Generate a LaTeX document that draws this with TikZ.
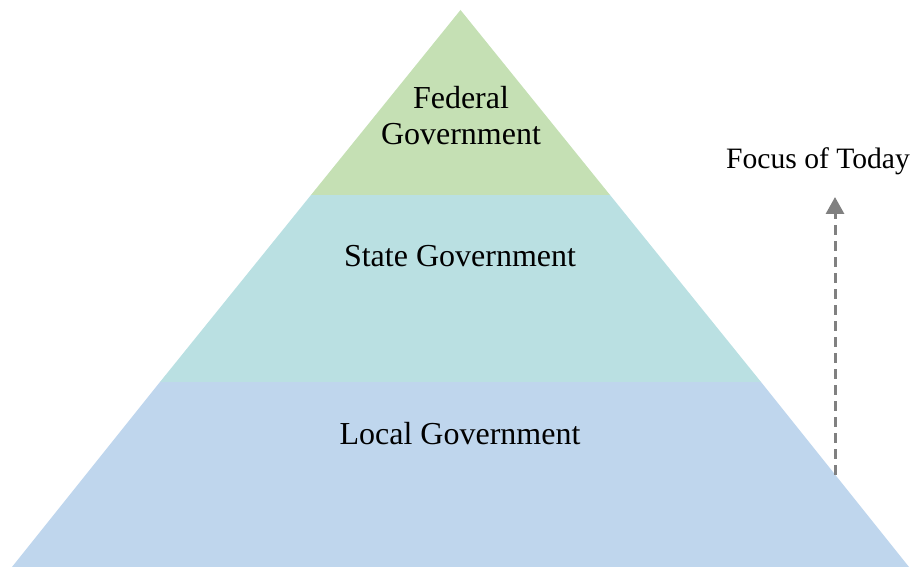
\documentclass[tikz,border=0pt]{standalone}
\usepackage{fontspec}
\setmainfont{Liberation Serif}
\usetikzlibrary{arrows.meta}
\definecolor{fedgreen}{HTML}{C5E0B4}
\definecolor{stateteal}{HTML}{BAE0E2}
\definecolor{localblue}{HTML}{BFD6ED}
\definecolor{arrowgray}{HTML}{808080}
\begin{document}
\begin{tikzpicture}[x=1pt,y=1pt,
  lbl/.style={font=\fontsize{32}{36}\selectfont, align=center, inner sep=0pt},
  flbl/.style={font=\fontsize{29.6}{36}\selectfont, align=center, inner sep=0pt},
  focusarrow/.style={draw=arrowgray, line width=3pt, dash pattern=on 10pt off 6pt,
     -{Triangle[width=18pt,length=17pt]}}]
\useasboundingbox (0,0) rectangle (913,567);
% layers
\fill[localblue] (12,0) -- (909,0) -- (761,185) -- (160,185) -- cycle;
\fill[stateteal] (160,185) -- (761,185) -- (610,372) -- (311,372) -- cycle;
\fill[fedgreen] (311,372) -- (610,372) -- (460.5,557) -- cycle;
% labels
\node[lbl] (fed) at (461,451) {Federal\\Government};
\node[lbl] (state) at (460,311) {State Government};
\node[lbl] (local) at (460,133) {Local Government};
\node[flbl] (focus) at (818,406) {Focus of Today};
% arrow
\coordinate (abot) at (835,92);
\coordinate (atop) at (835,370);
\draw[focusarrow] (abot) -- (atop);
\end{tikzpicture}
\end{document}
